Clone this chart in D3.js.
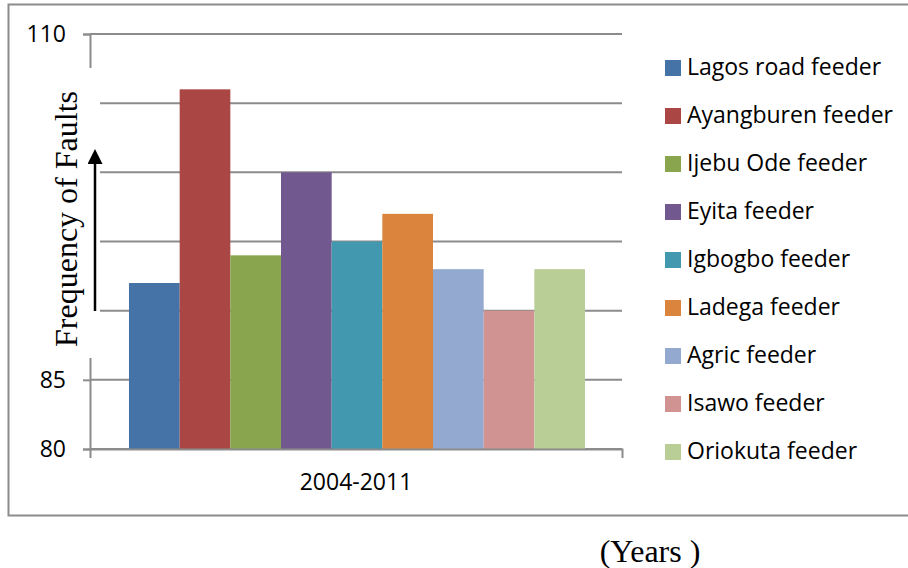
<!DOCTYPE html>
<html>
<head>
<meta charset="utf-8">
<script src="https://cdn.jsdelivr.net/npm/d3@7"></script>
<style>
body { margin:0; background:#fff; }
svg text { font-family: "Open Sans", Lato, sans-serif; }
</style>
</head>
<body>
<svg id="chart"></svg>
<script>
// data
var feeders = ["Lagos road feeder","Ayangburen feeder","Ijebu Ode feeder","Eyita feeder","Igbogbo feeder","Ladega feeder","Agric feeder","Isawo feeder","Oriokuta feeder"]
var faults = [92,106,94,100,95,97,93,90,93]
var colors = ["#4572a7","#aa4643","#89a54e","#71588f","#4198af","#db843d","#93a9cf","#d19392","#b9cd96"]
var category = ["2004-2011"]
var yTicks = [80,85,90,95,100,105,110]

var screen = {width:908, height:568}
var plot = {left:90, right:622, top:34, bottom:449}

var svg = d3.select("#chart")
    .attr("width", screen.width)
    .attr("height", screen.height)

// outer chart frame
svg.append("rect")
    .attr("x", 8.5).attr("y", 4.5)
    .attr("width", 920).attr("height", 511)
    .attr("fill", "white")
    .attr("stroke", "#8c8c8c")
    .attr("stroke-width", 2)

var yScale = d3.scaleLinear()
    .domain([80,110])
    .range([plot.bottom, plot.top])

var xOuter = d3.scaleBand()
    .domain(category)
    .range([plot.left, plot.right])

var xScale = d3.scaleBand()
    .domain(feeders)
    .range([129, 585])

// gridlines
svg.append("g")
    .selectAll("line")
    .data(yTicks)
    .enter()
    .append("line")
    .attr("x1", plot.left).attr("x2", plot.right)
    .attr("y1", function(d){ return yScale(d) })
    .attr("y2", function(d){ return yScale(d) })
    .attr("stroke", "#8c8c8c")
    .attr("stroke-width", 2)

// bars
svg.append("g")
    .selectAll("rect")
    .data(faults)
    .enter()
    .append("rect")
    .attr("x", function(d,i){ return xScale(feeders[i]) })
    .attr("y", function(d){ return yScale(d) })
    .attr("width", xScale.bandwidth())
    .attr("height", function(d){ return plot.bottom - yScale(d) })
    .attr("fill", function(d,i){ return colors[i] })

// y axis
var yAxis = d3.axisLeft(yScale).tickValues(yTicks).tickSize(7).tickPadding(17)
var ya = svg.append("g")
    .attr("transform", "translate(" + plot.left + ",0)")
    .call(yAxis)
ya.select(".domain").attr("stroke", "#8c8c8c").attr("stroke-width", 2)
ya.selectAll(".tick line").attr("stroke", "#8c8c8c").attr("stroke-width", 2)
ya.selectAll("text").attr("font-size", 23).attr("fill", "#000")
    .style("font-family", "'Open Sans', sans-serif")

// x axis (single category)
var xAxis = d3.axisBottom(xOuter).tickSizeInner(0).tickSizeOuter(9).tickPadding(25)
var xa = svg.append("g")
    .attr("transform", "translate(0," + plot.bottom + ")")
    .call(xAxis)
xa.select(".domain").attr("stroke", "#8c8c8c").attr("stroke-width", 2)
xa.selectAll("text").attr("font-size", 23).attr("fill", "#000")
    .style("font-family", "'Open Sans', sans-serif")

// white box of the pasted axis title, hides the middle tick labels
svg.append("rect")
    .attr("x", 22).attr("y", 68)
    .attr("width", 78).attr("height", 290)
    .attr("fill", "white")

svg.append("text")
    .text("Frequency of Faults")
    .attr("transform", "translate(77,219) rotate(-90)")
    .attr("text-anchor", "middle")
    .style("font-family", "'Liberation Serif', 'Times New Roman', serif")
    .attr("font-size", 32)

// arrow
svg.append("defs").append("marker")
    .attr("id", "head")
    .attr("viewBox", "0 0 10 10")
    .attr("refX", 0).attr("refY", 5)
    .attr("markerWidth", 6).attr("markerHeight", 6)
    .attr("markerUnits", "strokeWidth")
    .attr("orient", "auto")
    .append("path")
    .attr("d", "M0,0L10,5L0,10z")
    .attr("fill", "#000")

svg.append("line")
    .attr("x1", 95).attr("y1", 311)
    .attr("x2", 95).attr("y2", 164)
    .attr("stroke", "#000")
    .attr("stroke-width", 2.5)
    .attr("marker-end", "url(#head)")

// legend
var legend = svg.append("g")
    .selectAll("g")
    .data(feeders)
    .enter()
    .append("g")
    .attr("transform", function(d,i){ return "translate(665," + (68 + i*48) + ")" })

legend.append("rect")
    .attr("x", 0).attr("y", -8)
    .attr("width", 16).attr("height", 16)
    .attr("fill", function(d,i){ return colors[i] })

legend.append("text")
    .text(function(d){ return d })
    .attr("x", 22).attr("y", 7)
    .attr("font-size", 23)

// x title below frame
svg.append("text")
    .text("(Years )")
    .attr("x", 650).attr("y", 562)
    .attr("text-anchor", "middle")
    .style("font-family", "'Liberation Serif', 'Times New Roman', serif")
    .attr("font-size", 32)
</script>
</body>
</html>
